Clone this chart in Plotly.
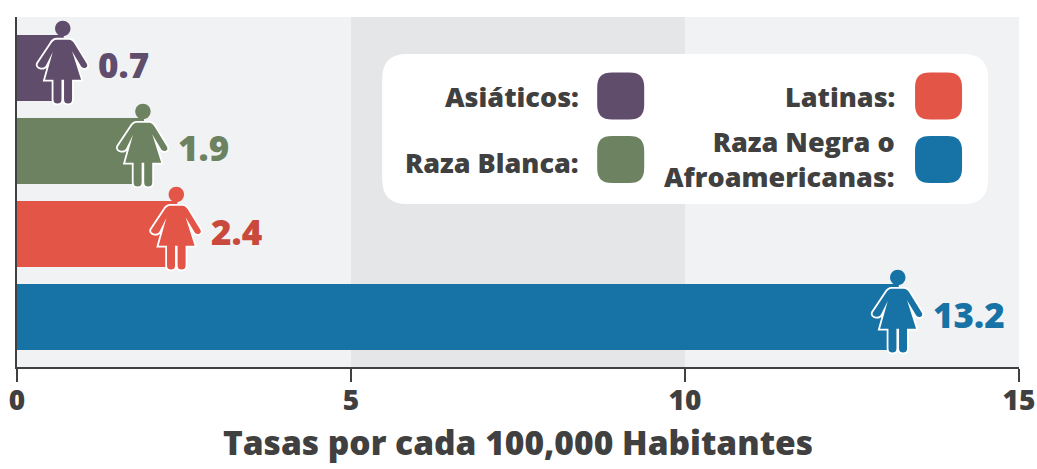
import plotly.graph_objects as go

groups = ["Asiáticos", "Raza Blanca", "Latinas", "Raza Negra o Afroamericanas"]
rates = [0.7, 1.9, 2.4, 13.2]
rate_labels = ["0.7", "1.9", "2.4", "13.2"]
bar_colors = ["#604c6b", "#6d8260", "#e35647", "#1772a6"]
label_colors = ["#604c6b", "#6d8260", "#c9493c", "#1772a6"]
x_ticks = [0, 5, 10, 15]
legend_left = ["Asiáticos:", "Raza Blanca:"]
legend_right = ["Latinas:", "Raza Negra o<br>Afroamericanas:"]
x_title = "Tasas por cada 100,000 Habitantes"

W, H = 1037, 469
L, R, T, B = 16.5, 18, 17, 102
DARK = "#404040"
FONT = "Open Sans"


def px(x):
    return (x - L) / (W - L - R)


def py(y):
    return 1 - (y - T) / (H - T - B)


def up(d, dx=0.0):
    """Flip a path written with y growing downward into Plotly's pixel-size convention."""
    out, is_y = [], False
    for tok in d.split():
        if tok[0].isalpha():
            out.append(tok)
            is_y = False
        else:
            out.append(str(-float(tok)) if is_y else str(float(tok) + dx))
            is_y = not is_y
    return " ".join(out)


def rounded(w, h, r):
    hw, hh = w / 2, h / 2
    k = r * 0.3
    return up(
        f"M {-hw+r} {-hh} L {hw-r} {-hh} C {hw-k} {-hh} {hw} {-hh+k} {hw} {-hh+r} "
        f"L {hw} {hh-r} C {hw} {hh-k} {hw-k} {hh} {hw-r} {hh} "
        f"L {-hw+r} {hh} C {-hw+k} {hh} {-hw} {hh-k} {-hw} {hh-r} "
        f"L {-hw} {-hh+r} C {-hw} {-hh+k} {-hw+k} {-hh} {-hw+r} {-hh} Z"
    )


HEAD = up("M -7.7 -39.5 C -7.7 -43.8 -4.3 -47.2 0 -47.2 C 4.3 -47.2 7.7 -43.8 7.7 -39.5 C 7.7 -35.2 4.3 -31.8 0 -31.8 C -4.3 -31.8 -7.7 -35.2 -7.7 -39.5 Z", -1)
BODY = up(
    "M -6 -28.3 L 6 -28.3 C 8.5 -28.3 10.5 -26.5 11.7 -24.3 L 24 -4.3 C 25 -2.5 24.5 -1 23 -0.3 "
    "C 21 0.5 19.3 -0.2 18.3 -1.7 L 9.3 -16.7 L 18.3 11.7 L 9.3 11.7 L 9.3 31.5 C 9.3 34.5 7.5 35.5 5.3 35.5 "
    "C 3 35.5 1.3 34.5 1.3 31.5 L 1.3 11.7 L -1.3 11.7 L -1.3 31.5 C -1.3 34.5 -3 35.5 -5.3 35.5 "
    "C -7.5 35.5 -9.3 34.5 -9.3 31.5 L -9.3 11.7 L -17.7 11.7 L -10 -16 L -16.7 -2.7 C -18 -0.5 -20 0 -21.7 -0.3 "
    "C -24.5 -0.8 -25.8 -2.8 -25 -4.3 L -11.7 -24.3 C -10.5 -26.5 -8.5 -28.3 -6 -28.3 Z", -1
)

fig = go.Figure(
    go.Bar(
        x=rates,
        y=groups,
        orientation="h",
        width=0.795,
        marker=dict(color=bar_colors, line_width=0),
        hoverinfo="skip",
    )
)

shapes = []
# Background bands, one per tick interval
for i in range(len(x_ticks) - 1):
    shapes.append(dict(
        type="rect", layer="below", xref="x", yref="paper",
        x0=x_ticks[i], x1=x_ticks[i + 1], y0=0, y1=1,
        fillcolor="#e5e6e8" if i == 1 else "#f1f2f4", line_width=0,
    ))

# Woman icon at the end of each bar: white halo, then body and head
for g, v, c in zip(groups, rates, bar_colors):
    for path, fill, lc, lw in (
        (BODY, "white", "white", 3.6),
        (BODY, c, c, 0),
        (HEAD, c, c, 0),
    ):
        shapes.append(dict(
            type="path", layer="above", xref="x", yref="y",
            xsizemode="pixel", ysizemode="pixel", xanchor=v, yanchor=g,
            path=path, fillcolor=fill,
            line=dict(color=lc, width=lw),
        ))

# Legend panel and swatches
shapes.append(dict(
    type="path", layer="above", xref="paper", yref="paper",
    xsizemode="pixel", ysizemode="pixel", xanchor=px(685), yanchor=py(129),
    path=rounded(606, 150, 26), fillcolor="white", line_width=0,
))
for (cx, cy), c in zip(
    [(620.5, 96), (620.5, 159.5), (938.5, 96), (938.5, 159.5)],
    bar_colors,
):
    shapes.append(dict(
        type="path", layer="above", xref="paper", yref="paper",
        xsizemode="pixel", ysizemode="pixel", xanchor=px(cx), yanchor=py(cy),
        path=rounded(47, 47, 15), fillcolor=c, line_width=0,
    ))

annotations = []
for g, v, t, c in zip(groups, rates, rate_labels, label_colors):
    annotations.append(dict(
        x=v, y=g, xref="x", yref="y", text=t, showarrow=False,
        xanchor="left", yanchor="middle", xshift=32, yshift=3,
        font=dict(family=FONT, size=35, color=c, weight=800),
    ))
for t, (x, y) in zip(
    legend_left + legend_right,
    [(581, 97), (581, 162), (897, 97), (897, 159)],
):
    annotations.append(dict(
        x=px(x), y=py(y), xref="paper", yref="paper", text=t, showarrow=False,
        xanchor="right", yanchor="middle", align="right",
        font=dict(family=FONT, size=27, color=DARK, weight=800),
    ))

fig.update_layout(
    width=W, height=H,
    template="none",
    margin=dict(l=L, r=R, t=T, b=B, pad=0, autoexpand=False),
    paper_bgcolor="white", plot_bgcolor="#f1f2f4",
    showlegend=False, bargap=0.205,
    shapes=shapes, annotations=annotations,
    xaxis=dict(
        range=[0, 15], tickmode="array", tickvals=x_ticks, ticktext=[str(t) for t in x_ticks],
        showgrid=False, zeroline=False, automargin=False,
        showline=True, linecolor=DARK, linewidth=2,
        ticks="outside", ticklen=13, tickwidth=2, tickcolor=DARK,
        ticklabelstandoff=-6,
        tickfont=dict(family=FONT, size=28, color=DARK, weight=800),
        title=dict(text=x_title, standoff=15, font=dict(family=FONT, size=33.5, color=DARK, weight=800)),
    ),
    yaxis=dict(
        type="category", categoryorder="array", categoryarray=groups,
        range=[3.602, -0.614], showticklabels=False, showgrid=False, zeroline=False, automargin=False,
        showline=True, linecolor=DARK, linewidth=2, ticks="",
    ),
)

fig.write_html("out.html", config=dict(displayModeBar=False), post_script="document.body.style.margin='0';")
